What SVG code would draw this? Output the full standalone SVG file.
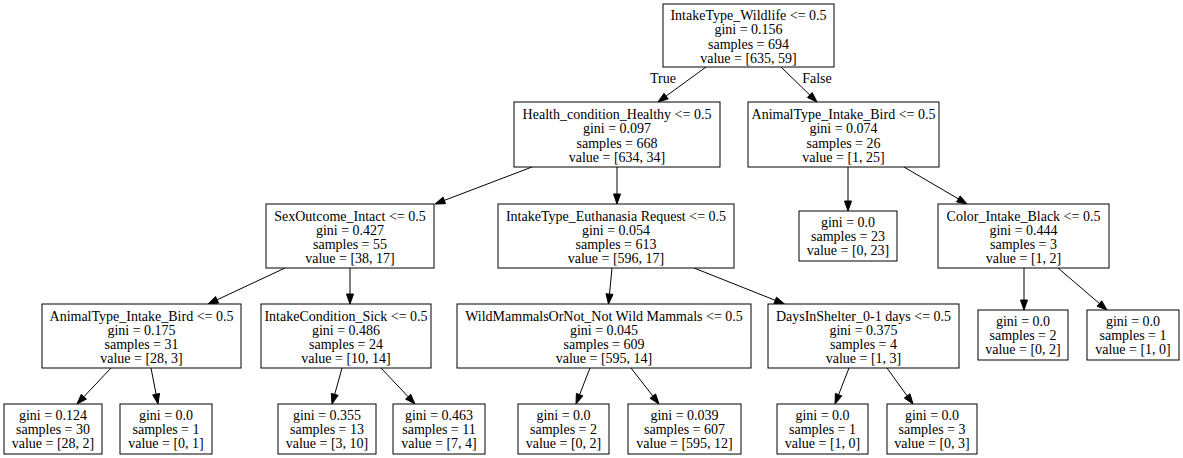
<svg xmlns="http://www.w3.org/2000/svg" width="1183" height="458" viewBox="0 0 1183 458">
<style>
.box{fill:#ffffff;stroke:#000000;stroke-width:1}
text{font-family:"Liberation Serif","Times New Roman",serif;font-size:14px;fill:#000000;text-anchor:middle}
.edge line{stroke:#000000;stroke-width:1}
.edge polygon{fill:#000000;stroke:#000000;stroke-width:1}
</style>
<rect x="0" y="0" width="1183" height="458" fill="#ffffff"/>
<g id="connectors" class="edge">
<line x1="706" y1="67" x2="666.1" y2="96.1"/><polygon points="664.0,93.3 658,102 668.2,98.9"/>
<line x1="781" y1="67" x2="809.8" y2="95.0"/><polygon points="807.4,97.5 817,102 812.2,92.5"/>
<line x1="532" y1="167" x2="444.3" y2="200.4"/><polygon points="443.1,197.1 435,204 445.5,203.7"/>
<line x1="617" y1="167" x2="617" y2="194"/><polygon points="613.5,194 617,204 620.5,194"/>
<line x1="848" y1="167" x2="848" y2="201"/><polygon points="844.5,201 848,211 851.5,201"/>
<line x1="904" y1="167" x2="958.4" y2="198.9"/><polygon points="956.6,201.9 967,204 960.2,195.9"/>
<line x1="285" y1="268" x2="217.1" y2="299.8"/><polygon points="215.6,296.6 208,304 218.6,303.0"/>
<line x1="350" y1="268" x2="350" y2="294"/><polygon points="346.5,294 350,304 353.5,294"/>
<line x1="612" y1="268" x2="609.5" y2="294.0"/><polygon points="606.0,293.7 608.5,304 613.0,294.4"/>
<line x1="694" y1="268" x2="775.2" y2="300.3"/><polygon points="773.9,303.6 784.5,304 776.5,297.1"/>
<line x1="111" y1="368" x2="83.9" y2="396.7"/><polygon points="81.3,394.3 77,404 86.4,399.1"/>
<line x1="151" y1="368" x2="156.1" y2="394.2"/><polygon points="152.7,394.9 158,404 159.5,393.5"/>
<line x1="342" y1="368" x2="334.7" y2="394.4"/><polygon points="331.3,393.4 332,404 338.1,395.3"/>
<line x1="381" y1="368" x2="408.1" y2="396.7"/><polygon points="405.6,399.1 415,404 410.7,394.3"/>
<line x1="590" y1="368" x2="579.6" y2="394.7"/><polygon points="576.4,393.4 576,404 582.9,395.9"/>
<line x1="631" y1="368" x2="652.9" y2="396.1"/><polygon points="650.1,398.3 659,404 655.6,394.0"/>
<line x1="849" y1="368" x2="838.6" y2="394.7"/><polygon points="835.4,393.4 835,404 841.9,395.9"/>
<line x1="887" y1="368" x2="907.1" y2="395.9"/><polygon points="904.3,398.0 913,404 910.0,393.8"/>
<line x1="1024" y1="268" x2="1024" y2="300"/><polygon points="1020.5,300 1024,310 1027.5,300"/>
<line x1="1058" y1="268" x2="1099.4" y2="303.5"/><polygon points="1097.1,306.2 1107,310 1101.7,300.8"/>
<text x="663" y="83">True</text>
<text x="817" y="83">False</text>
</g>
<g id="n0"><rect class="box" x="663" y="4" width="171" height="63"/>
<text x="748.5" y="20">IntakeType_Wildlife &lt;= 0.5</text><text x="748.5" y="34.3">gini = 0.156</text><text x="748.5" y="48.6">samples = 694</text><text x="748.5" y="62.9">value = [635, 59]</text></g>
<g id="n1"><rect class="box" x="514" y="102" width="206" height="65"/>
<text x="617" y="119">Health_condition_Healthy &lt;= 0.5</text><text x="617" y="133.3">gini = 0.097</text><text x="617" y="147.6">samples = 668</text><text x="617" y="161.9">value = [634, 34]</text></g>
<g id="n2"><rect class="box" x="748" y="102" width="191" height="65"/>
<text x="843.5" y="119">AnimalType_Intake_Bird &lt;= 0.5</text><text x="843.5" y="133.3">gini = 0.074</text><text x="843.5" y="147.6">samples = 26</text><text x="843.5" y="161.9">value = [1, 25]</text></g>
<g id="n3"><rect class="box" x="266" y="204" width="168" height="64"/>
<text x="350" y="220.5">SexOutcome_Intact &lt;= 0.5</text><text x="350" y="234.8">gini = 0.427</text><text x="350" y="249.1">samples = 55</text><text x="350" y="263.4">value = [38, 17]</text></g>
<g id="n4"><rect class="box" x="498" y="204" width="236" height="64"/>
<text x="616" y="220.5">IntakeType_Euthanasia Request &lt;= 0.5</text><text x="616" y="234.8">gini = 0.054</text><text x="616" y="249.1">samples = 613</text><text x="616" y="263.4">value = [596, 17]</text></g>
<g id="n5"><rect class="box" x="799" y="211" width="98" height="50"/>
<text x="848" y="226.7">gini = 0.0</text><text x="848" y="241">samples = 23</text><text x="848" y="255.3">value = [0, 23]</text></g>
<g id="n6"><rect class="box" x="938" y="204" width="171" height="64"/>
<text x="1023.5" y="220.5">Color_Intake_Black &lt;= 0.5</text><text x="1023.5" y="234.8">gini = 0.444</text><text x="1023.5" y="249.1">samples = 3</text><text x="1023.5" y="263.4">value = [1, 2]</text></g>
<g id="n7"><rect class="box" x="42" y="304" width="199" height="64"/>
<text x="141.5" y="320.5">AnimalType_Intake_Bird &lt;= 0.5</text><text x="141.5" y="334.8">gini = 0.175</text><text x="141.5" y="349.1">samples = 31</text><text x="141.5" y="363.4">value = [28, 3]</text></g>
<g id="n8"><rect class="box" x="261" y="304" width="170" height="64"/>
<text x="346" y="320.5">IntakeCondition_Sick &lt;= 0.5</text><text x="346" y="334.8">gini = 0.486</text><text x="346" y="349.1">samples = 24</text><text x="346" y="363.4">value = [10, 14]</text></g>
<g id="n9"><rect class="box" x="457" y="304" width="294" height="64"/>
<text x="604" y="320.5">WildMammalsOrNot_Not Wild Mammals &lt;= 0.5</text><text x="604" y="334.8">gini = 0.045</text><text x="604" y="349.1">samples = 609</text><text x="604" y="363.4">value = [595, 14]</text></g>
<g id="n10"><rect class="box" x="768" y="304" width="191" height="64"/>
<text x="863.5" y="320.5">DaysInShelter_0-1 days &lt;= 0.5</text><text x="863.5" y="334.8">gini = 0.375</text><text x="863.5" y="349.1">samples = 4</text><text x="863.5" y="363.4">value = [1, 3]</text></g>
<g id="n11"><rect class="box" x="978" y="310" width="90" height="50"/>
<text x="1023" y="325.7">gini = 0.0</text><text x="1023" y="340">samples = 2</text><text x="1023" y="354.3">value = [0, 2]</text></g>
<g id="n12"><rect class="box" x="1087" y="310" width="92" height="50"/>
<text x="1133" y="325.7">gini = 0.0</text><text x="1133" y="340">samples = 1</text><text x="1133" y="354.3">value = [1, 0]</text></g>
<g id="n13"><rect class="box" x="4" y="404" width="98" height="50"/>
<text x="53" y="419.7">gini = 0.124</text><text x="53" y="434">samples = 30</text><text x="53" y="448.3">value = [28, 2]</text></g>
<g id="n14"><rect class="box" x="120" y="404" width="92" height="50"/>
<text x="166" y="419.7">gini = 0.0</text><text x="166" y="434">samples = 1</text><text x="166" y="448.3">value = [0, 1]</text></g>
<g id="n15"><rect class="box" x="278" y="404" width="98" height="50"/>
<text x="327" y="419.7">gini = 0.355</text><text x="327" y="434">samples = 13</text><text x="327" y="448.3">value = [3, 10]</text></g>
<g id="n16"><rect class="box" x="393" y="404" width="92" height="50"/>
<text x="439" y="419.7">gini = 0.463</text><text x="439" y="434">samples = 11</text><text x="439" y="448.3">value = [7, 4]</text></g>
<g id="n17"><rect class="box" x="518" y="404" width="91" height="50"/>
<text x="563.5" y="419.7">gini = 0.0</text><text x="563.5" y="434">samples = 2</text><text x="563.5" y="448.3">value = [0, 2]</text></g>
<g id="n18"><rect class="box" x="628" y="404" width="113" height="50"/>
<text x="684.5" y="419.7">gini = 0.039</text><text x="684.5" y="434">samples = 607</text><text x="684.5" y="448.3">value = [595, 12]</text></g>
<g id="n19"><rect class="box" x="777" y="404" width="91" height="50"/>
<text x="822.5" y="419.7">gini = 0.0</text><text x="822.5" y="434">samples = 1</text><text x="822.5" y="448.3">value = [1, 0]</text></g>
<g id="n20"><rect class="box" x="887" y="404" width="90" height="50"/>
<text x="932" y="419.7">gini = 0.0</text><text x="932" y="434">samples = 3</text><text x="932" y="448.3">value = [0, 3]</text></g>
</svg>
